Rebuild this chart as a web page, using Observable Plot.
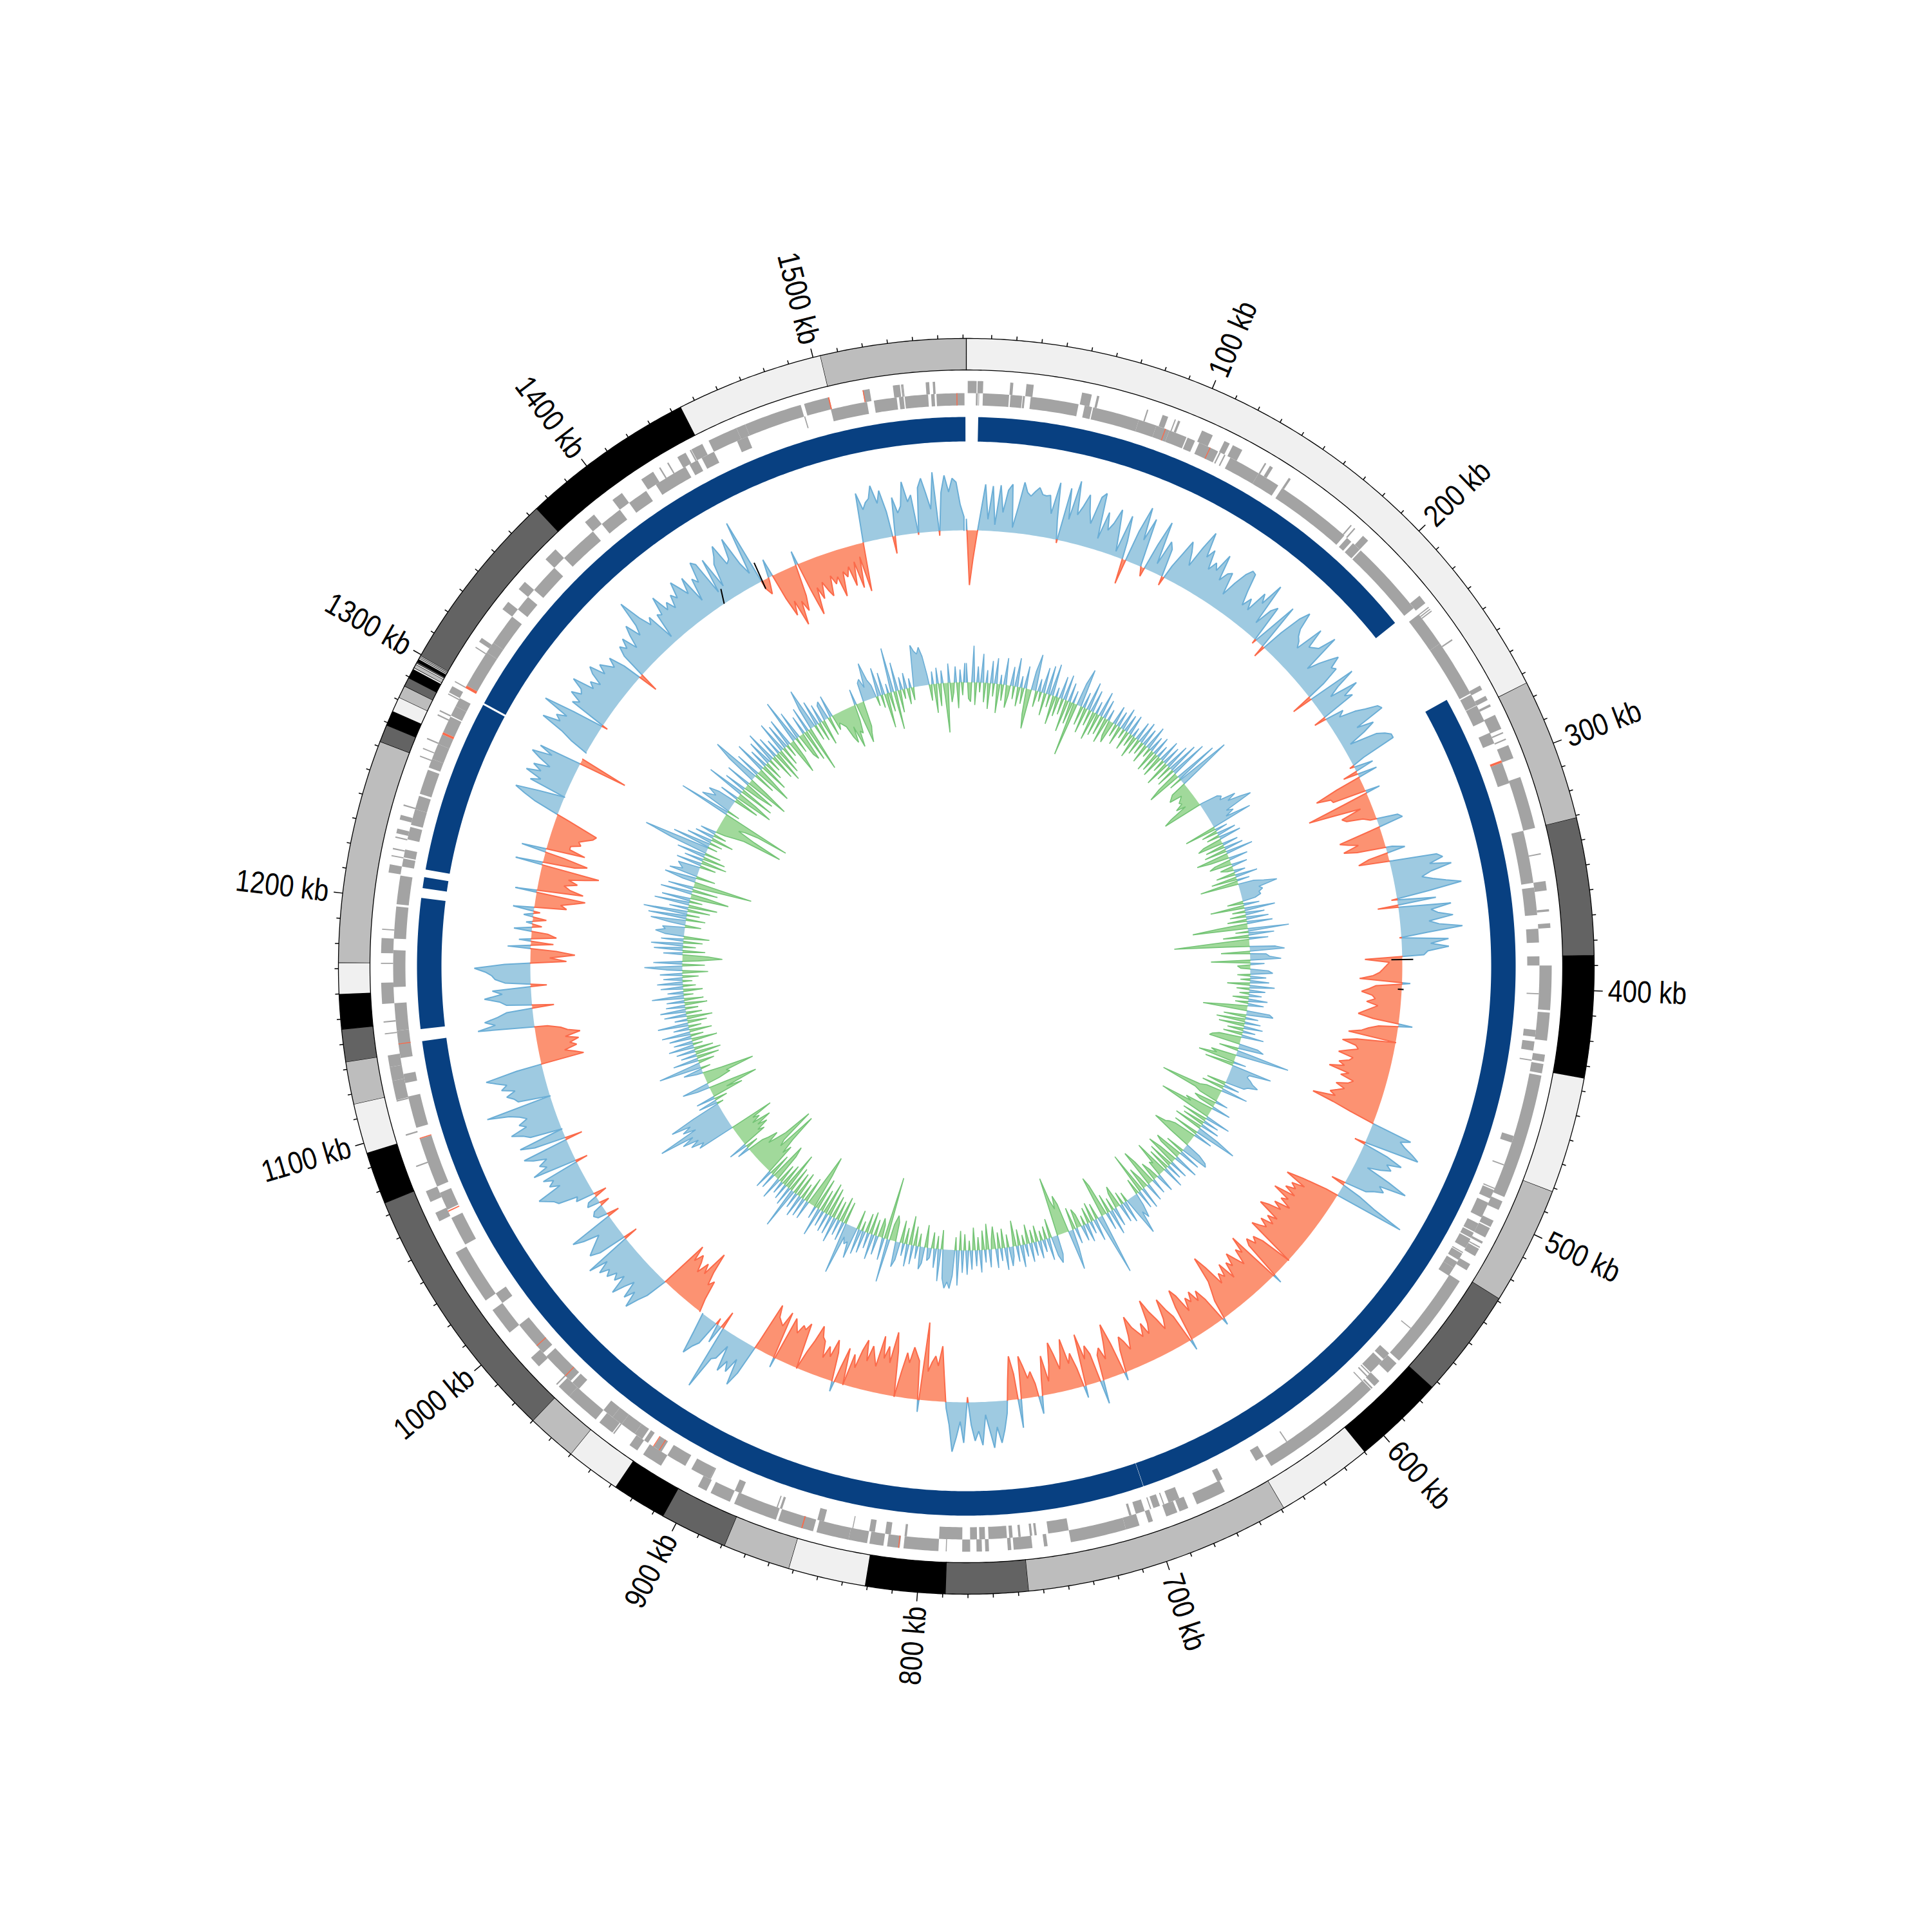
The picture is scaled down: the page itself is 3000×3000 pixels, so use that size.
<!DOCTYPE html>
<html><head><meta charset="utf-8">
<style>html,body{margin:0;padding:0;background:#fff}svg{display:block}</style>
<script src="https://cdn.jsdelivr.net/npm/d3@7"></script>
<script src="https://cdn.jsdelivr.net/npm/@observablehq/plot@0.6"></script>
</head><body>
<div id="chart"></div>
<script>
const genomeKb = 1561.3;
const labelKb = [100,200,300,400,500,600,700,800,900,1000,1100,1200,1300,1400,1500];
const ringStarts = [0,274,331,386,435,481.6,529,573,610,649,756,789,821,852,879,906,928,950,970,1075,1096,1116,1133,1146,1160,1172.5,1262,1269,1275,1281,1286,1289.6,1293.5,1294.2,1295.7,1296.3,1296.8,1298,1298.5,1299.2,1299.6,1374,1444,1503];
const ringColors = ["#f0f0f0","#bdbdbd","#636363","#000","#f0f0f0","#bdbdbd","#636363","#000","#f0f0f0","#bdbdbd","#636363","#000","#f0f0f0","#bdbdbd","#636363","#000","#f0f0f0","#bdbdbd","#636363","#000","#f0f0f0","#bdbdbd","#636363","#000","#f0f0f0","#bdbdbd","#636363","#000","#f0f0f0","#bdbdbd","#636363","#000","#f0f0f0","#bdbdbd","#f0f0f0","#636363","#000","#f0f0f0","#bdbdbd","#f0f0f0","#636363","#000","#f0f0f0","#bdbdbd"];
const blueBands = [[5.4,222.5],[264.5,699],[699.15,1137],[1142.5,1202],[1206.5,1211.5],[1215,1294.2],[1295.1,1560.9]];
const genesOuter = [[0.6,4.4],[4.8,7.2],[18.7,20],[25.6,28.7],[49.5,53.7],[56,57],[78,78.6],[85,87.5],[90.5,91],[92,93],[103,108],[113.5,116],[117.5,122],[133,133.7],[135.5,137],[145,146],[178,178.6],[180,180.6],[185,188],[220,224],[226,226.5],[227,227.5],[228,228.5],[243,243.6],[266,268],[271,273],[275,276],[280,286.5],[288,288.6],[291,291.6],[294,300],[308.5,331],[342,342.5],[354,358],[366,367],[372,374],[390,409],[410,422],[428,431],[432,436],[437,491],[493,497],[502,505],[505.5,510],[512,513],[514.5,515],[515.5,519],[523,526],[531.5,574],[575.5,581],[586,589],[590,590.7],[591,644.5],[667,680],[684,688],[689,694],[700,702],[706,712],[712,736],[746,747.5],[752.5,760.5],[761.5,763],[771,772.6],[774,776.3],[779,782.4],[789,789.4],[792.5,807.4],[809,814.4],[816,822],[823,831],[831,845],[846.5,852],[851,862],[863,882],[884,893],[895,899],[917,926],[929,933],[941,941.6],[942,949],[951,966],[966,972],[973,973.6],[984,989],[1003,1015],[1020,1044],[1059,1063],[1068,1073],[1084,1084.6],[1098,1098.6],[1113,1113.6],[1113.7,1122],[1122,1128],[1128,1133],[1142,1142.5],[1147,1147.6],[1155,1164],[1172,1172.5],[1176.6,1183],[1186.5,1187],[1211,1214.5],[1218,1218.5],[1221,1221.6],[1226,1226.6],[1228,1230],[1234,1236],[1240,1240.6],[1262,1262.5],[1265.5,1266],[1270,1270.6],[1281,1281.6],[1283,1283.6],[1291,1291.5],[1292,1295],[1297,1297.5],[1314,1314.5],[1317,1319],[1334,1338],[1345,1349],[1362,1368],[1385,1390],[1400,1405],[1415,1421],[1424,1424.6],[1428,1428.6],[1433,1437],[1439,1439.6],[1439.8,1445],[1448,1461],[1461,1465],[1465,1490],[1491.5,1502.5],[1517,1520],[1530,1533],[1534,1534.5],[1533.5,1534],[1544,1545.5],[1547,1548]];
const genesInner = [[4.2,5],[5.3,5.6],[7.2,18.6],[19.2,24.3],[24.6,25.5],[28,49],[51.7,55],[55.5,76],[76,84],[84,90],[90,98],[98.5,102],[104,113],[113.7,114.3],[116,116.6],[119,133],[133,143],[145,179],[180.5,183],[184,188],[188.6,222.6],[226,241.7],[241.7,267],[267.6,272.8],[273,280.5],[286,291],[300,309.5],[331,354],[356,368],[374,380],[386,390],[402,402.5],[418,421],[423,427],[431,431.5],[465,468],[478,478.5],[489,489.5],[490,494],[496,503],[506,510],[510.5,513],[513.5,518],[520,520.5],[520.8,524],[525,528],[528,532],[560,560.4],[574.5,578],[579,586],[586.5,587],[588,588.6],[591,591.5],[633,633.5],[645,649],[665.5,668],[686,691],[693,693.5],[695,698],[699,699.5],[702,706],[708,709],[736,745],[750,751],[752,753],[757,758],[760.5,762],[763,771],[772.5,775],[776,779],[782.4,792.5],[806.5,807.5],[813.5,816],[820.5,823],[830,830.4],[843,846],[862,863],[864,864.5],[881,884],[895.5,896],[896,905],[908,917],[920,924],[927,929],[930,934],[934,941],[941,946],[946,951],[965,969],[970,974],[972,985],[987,1003],[1015,1020],[1045,1058],[1062,1070],[1073,1095],[1100,1114],[1120,1124],[1131,1143],[1143,1155],[1162,1178],[1183,1197],[1198,1210.5],[1214.5,1218],[1218.5,1222],[1226.5,1232],[1233,1240],[1240,1246],[1247,1258],[1259,1263],[1263,1270],[1270,1274.5],[1275.5,1283],[1283.5,1288],[1288,1292],[1298.2,1315],[1315,1320],[1320,1334],[1338,1345],[1349,1362],[1368,1385],[1390,1400],[1405,1414],[1419,1434],[1436,1440],[1442,1448],[1459,1464],[1490,1490.5],[1502,1518],[1521,1531],[1532,1534],[1534.5,1544.7],[1546,1547.5],[1548.3,1560.5]];
const genesOuterRed = [[809.3,809.7],[851.2,851.7],[1502,1502.5],[1517,1517.4]];
const genesInnerRed = [[88,88.4],[109,109.4],[299,300],[921,921.4],[924,924.4],[973,973.4],[991,991.4],[1061,1061.5],[1095,1095.4],[1137,1137.4],[1274.5,1275.5],[1297,1298.2],[1557,1557.4]];
// coverage track, one signed reading every 2 kb: outward (+) blue, inward (-) red
const coverage = [
[18,-85,-45,-8,30,72,18,70,10,72,30,65,75,8,40,80,65,60,68,75,65,64,66,38,88,30,-5,83,35,97,45,60,80,55,37,81,89,18,62,35,48,72,40,8,68,30,-39,50,91,40],
[77,3,-14,42,82,15,55,45,-14,22,45,70,55,35,70,99,60,75,45,60,50,80,40,55,60,25,50,70,81,79,50,29,45,28,64,50,88,21,50,60,-7,30,75,-19,35,70,87,60,50,45],
[36,81,50,55,60,88,26,45,60,74,55,60,30,-33,77,45,27,72,45,56,-19,30,20,45,60,79,83,34,60,40,12,55,67,75,75,20,-7,30,-23,31,-40,-77,-55,-53,23,-40,-100,-60,-18,-51],
[-45,-20,-10,33,39,-15,-67,-55,-40,-65,-45,10,29,-30,-48,5,74,82,60,93,60,44,60,80,103,50,-9,60,-32,82,50,60,83,45,60,96,40,-3,73,45,73,40,34,-58,-20,-25,-30,-35,-45,-66],
[13,-40,-50,-62,-45,-40,-53,-35,-45,-55,-64,-40,22,-30,-45,-55,-75,0,-60,-82,-60,-55,-70,-84,-60,-65,-80,-70,-93,-60,-72,-50,-57,-75,-60,-70,-80,-70,-105,-70,-40,0,65,50,60,75,87,-17,40,67],
[45,55,40,20,60,92,50,60,45,35,-22,30,60,111,-20,-60,-85,-50,-70,-60,-75,-55,-89,-60,-70,-50,-75,-60,-80,-92,-55,-70,-55,-75,-60,-70,-81,0,-50,-65,-55,-70,-60,15,-86,-60,-70,-45,-60,-75],
[-55,-65,-40,-70,-50,-60,-45,-80,-101,-60,-45,-30,11,-40,-60,-45,-65,-50,-60,-40,-70,-83,-55,17,-45,-60,-81,-50,-35,-55,-70,-92,-55,-40,-60,-40,-50,-60,-80,-50,-30,-45,-55,-35,13,-50,-83,-55,-30,-50],
[-40,37,-45,-60,-40,-81,19,-30,-55,-40,-80,-55,-35,-60,-79,-45,-20,-61,-25,28,-20,-40,-30,-50,-66,45,-40,-68,-30,20,45,65,40,72,45,20,67,45,60,35,-8,63,30,55,77,35,10,-40,-86,-55],
[-70,-60,-45,-121,19,-60,-70,-80,-55,-70,-40,0,-70,-99,-50,-75,-55,-89,-40,-55,-70,-45,-77,-60,-30,-50,0,-57,-25,16,-45,-64,-35,-50,-30,-55,-60,-76,-50,-30,0,-72,-60,-65,-50,-60,-70,16,-75,-50],
[-55,-60,-78,-10,48,71,30,55,40,60,20,45,50,103,-28,30,-10,40,50,66,30,0,0,-20,-50,-40,-60,-92,-50,-65,-45,-60,-70,-55,-79,0,35,50,70,45,62,35,50,70,40,55,45,60,50,65],
[45,75,-22,45,60,50,40,30,55,71,-19,15,20,15,-15,20,15,-20,30,25,55,60,70,80,40,55,45,60,-19,70,45,55,40,60,73,-27,50,72,0,50,60,77,50,60,45,55,70,104,0,50],
[55,65,50,70,60,75,90,40,-68,-55,-40,-60,-50,-65,-45,-69,-50,-40,-20,88,60,76,55,40,-34,40,50,73,45,60,-25,40,55,60,70,87,40,-56,-30,-69,-40,36,-35,19,-39,-25,28,-15,10,-21],
[15,-10,33,-50,-40,-60,-77,34,-72,-50,-40,-60,-45,-70,-91,43,-50,-69,-30,39,-61,-35,-35,-50,-45,-55,-65,-69,-45,-20,10,40,60,77,40,0,60,45,72,50,65,40,60,76,45,68,-77,0,0,0],
[30,50,87,60,70,55,98,50,-9,60,50,70,55,60,79,45,55,40,60,70,45,60,50,40,55,30,-31,40,55,45,60,35,55,70,45,60,100,65,45,55,10,50,45,74,45,55,40,60,50,75],
[60,45,70,24,60,50,82,75,20,75,24,60,70,85,50,55,87,40,20,105,-13,-25,-5,29,-40,-72,-50,-92,-55,-73,-50,22,-45,-87,-45,-65,-40,-55,-66,-35,-50,-40,-73,-35,-45,-30,-62,-25,-68,-20],
[-76,0,77,50,60,65,84,55,74,40,-27,60,35,45,82,50,60,-3,70,84,60,35,92,-7,60,86,60,81,75,40,21]
];
// inner skew track, one signed reading every 2 kb: outward (+) blue, inward (-) green
const skew = [
[30,-25,-30,57,-35,25,-15,45,-30,20,-40,35,-20,40,-45,15,-25,42,-35,-15,30,-20,45,-30,18,-25,35,-40,-62,30,57,-25,20,-15,40,-35,45,-20,50,-45,15,-30,35,-25,40,-50,30,-35,20,-84],
[35,60,-30,25,-40,45,-25,35,-45,20,-35,40,-30,30,-40,18,-25,-35,30,-20,25,-30,35,-15,28,-30,32,-20,15,-35,30,-25,35,-20,28,-30,38,-15,25,-35,30,-30,20,-35,35,-20,30,-40,40,-25],
[50,-30,60,-35,-55,70,-20,87,30,-25,-30,-35,-15,-20,-25,-22,-35,-20,-50,-63,5,30,35,30,55,40,60,76,30,40,25,65,-50,20,-25,30,-20,35,-30,-40,25,-30,30,-35,43,-51,-30,30,-25,-35],
[25,-20,-10,18,-30,35,-40,20,-60,25,40,60,30,35,28,30,20,-25,25,-53,48,-20,30,-25,35,-30,40,-45,-86,64,-20,40,-40,30,-60,-117,-35,40,54,-45,25,30,48,-61,22,-20,-15,28,35,-20],
[25,-15,30,-35,39,-20,25,-15,20,-25,30,-20,25,-30,-69,36,42,-35,20,-45,25,-40,30,-25,20,-30,35,-35,-45,-49,30,40,-30,25,84,-40,-30,-58,20,-45,64,30,28,35,40,50,35,30,-30,25],
[-35,42,-25,-35,-97,-40,-30,20,-35,-25,30,-45,-35,-84,-30,40,-40,25,-35,30,-45,35,67,-40,30,-35,-45,-50,-67,-35,25,40,44,-30,35,-45,-35,40,-30,-50,30,-40,25,-35,35,-55,-20,-25,30,-15],
[-30,25,-40,-60,30,-15,-35,35,-66,30,-25,20,40,28,63,25,-15,35,-20,30,-35,-25,30,-20,40,-30,28,-50,-65,96,25,-25,35,-30,20,-25,30,-15,25,-20,-30,25,-35,30,63,-45,-60,-40,-55,-92],
[30,43,30,-30,35,-20,20,-15,28,-25,22,-20,30,-30,20,-15,35,-25,25,-40,15,30,-20,35,-30,20,-25,30,-35,-15,28,-40,20,-30,35,-20,25,-35,30,-15,38,-25,35,-30,55,-20,40,60,50,60],
[45,-30,50,-20,30,-25,15,20,-35,25,35,-20,20,-30,30,-45,35,-25,20,-35,28,40,-30,-40,-25,68,-98,35,-20,-30,30,-25,40,-35,25,-30,35,-15,40,-30,50,25,30,20,81,-35,30,-40,25,-30],
[40,-35,30,-45,30,-50,25,-35,45,-50,20,-55,-85,-30,30,-40,30,-25,35,-40,25,-35,65,-40,30,-60,25,-35,20,-30,35,-45,-60,25,-35,30,-50,-35,-60,-104,-40,-50,-106,-60,-45,-30,-50,-35,-25,20],
[-20,30,-40,-30,-50,-35,-60,-30,-45,-35,-70,60,50,70,55,80,60,114,50,70,55,85,45,-10,30,-20,30,-50,-25,-77,-40,20,43,-20,-40,-35,-81,-30,10,30,-15,67,15,-25,40,-35,25,-40,30,-30],
[40,-15,30,-40,35,-20,45,-35,25,-20,48,-30,20,-40,35,-25,40,-20,30,-35,28,-30,50,-15,25,-30,35,-20,40,-15,30,-25,35,-40,25,59,-35,45,-25,-62,-40,30,-35,45,-20,50,-30,35,-40,30],
[45,30,35,-25,25,55,-30,60,-20,69,-35,30,-45,55,-20,45,-60,-25,50,-40,40,-35,-92,20,50,-30,45,25,30,35,-25,40,-40,30,-35,45,-25,60,104,-15,60,-20,40,-35,30,-20,25,-15,-30,-45],
[-107,-60,-30,-40,-60,-110,81,-20,50,40,30,45,30,-40,30,-60,-30,60,-55,35,-25,-50,40,-70,-30,50,77,-35,40,-60,-25,50,-45,30,-30,40,-20,50,-40,35,-50,25,-40,50,-30,40,-20,45,-55,-30],
[70,-25,45,-35,-45,30,-50,40,-71,35,65,-25,40,-30,30,-40,25,30,-30,35,-25,-15,-20,-25,-45,-55,-30,-65,-40,-45,-25,25,-64,-50,-40,30,35,20,58,30,20,-15,45,-20,35,-54,15,-30,70,-60],
[45,-35,20,-15,25,-25,15,-20,20,65,55,50,60,45,15,-25,20,-45,25,-35,20,-20,-77,30,-30,-15,25,-40,20,-20,30]
];
const blackSpans = [[1418,22,1415,0],[1441,31,1440,-13],[386.5,-17,386.5,17],[403.5,-6,403.5,3]];

// --- helpers: genome position + radius → plot coordinates
const TAU = 2*Math.PI;
const P = (kb,r)=>({x:r*Math.sin(TAU*kb/genomeKb), y:r*Math.cos(TAU*kb/genomeKb)});
let nextId = 0;
function sector(a,b,r0,r1){
  const id = nextId++, n = Math.max(1,Math.ceil((b-a)/1.5)), out=[];
  for(let i=0;i<=n;i++) out.push({...P(a+(b-a)*i/n,r1),id});
  for(let i=n;i>=0;i--) out.push({...P(a+(b-a)*i/n,r0),id});
  return out;
}
// a run of same-signed readings; each foot sits where the trace crosses the baseline
function signedTrack(chunks, base, sign){
  const v = chunks.flat(), fills=[], lines=[];
  const foot = (inner,outer)=>{
    if(outer<0||outer>=v.length) return inner;
    const a=Math.abs(v[inner]), b=Math.abs(v[outer]);
    return inner+(outer-inner)*a/(a+b);
  };
  let i=0;
  while(i<v.length){
    if(v[i]*sign<=0){i++;continue;}
    let j=i; while(j+1<v.length && v[j+1]*sign>0) j++;
    const id = nextId++, s=foot(i,i-1), e=foot(j,j+1);
    const top=[{...P(s*2,base),id}];
    for(let k=i;k<=j;k++) top.push({...P(k*2,base+v[k]),id});
    top.push({...P(e*2,base),id});
    fills.push(...top);
    for(let k=j;k>=i;k--) fills.push({...P(k*2,base),id});
    fills.push({...P(s*2,base),id});
    lines.push(...top);
    i=j+1;
  }
  return {fills,lines};
}
const fillPoly=(rows,color)=>Plot.line(rows,{x:"x",y:"y",z:"id",fill:color,stroke:"none",curve:"linear"});
const strokeLine=(rows,color,w)=>Plot.line(rows,{x:"x",y:"y",z:"id",stroke:color,strokeWidth:w,fill:"none",curve:"linear",strokeLinejoin:"miter"});

const R = {ringOut:975, ringIn:926, gOut:909, gMid:890, gIn:871, bandOut:853, bandIn:815, cov:677, skew:441};
const ringMarks = ringStarts.map((s,i)=>{
  const e = i+1<ringStarts.length?ringStarts[i+1]:genomeKb;
  return Plot.line(sector(s,e,R.ringIn,R.ringOut),{x:"x",y:"y",z:"id",fill:ringColors[i],stroke:"#000",strokeWidth:1.3,curve:"linear"});
});
const ticks = d3.range(10,1561,10).map(kb=>{
  const major = kb%100===0, a=P(kb,R.ringOut), b=P(kb,R.ringOut+(major?14:6));
  return {x1:a.x,y1:a.y,x2:b.x,y2:b.y,major};
});
const labels = labelKb.map(kb=>{
  const deg=360*kb/genomeKb, p=P(kb,997);
  return {...p,text:kb+" kb",deg,rot:deg<180?deg-90:deg+90};
});
const covUp=signedTrack(coverage,R.cov,1), covDn=signedTrack(coverage,R.cov,-1);
const skewUp=signedTrack(skew,R.skew,1), skewDn=signedTrack(skew,R.skew,-1);
const blackLinks = blackSpans.map(([a,u,b,w])=>{const p=P(a,R.cov+u),q=P(b,R.cov+w);return {x1:p.x,y1:p.y,x2:q.x,y2:q.y};});
const labelStyle={x:"x",y:"y",text:"text",rotate:"rot",fontSize:48,fill:"#000",lineAnchor:"middle",fontFamily:"'Liberation Sans',sans-serif"};

const chart = Plot.plot({
  width:3000,height:3000,margin:0,
  x:{domain:[-1500,1500],axis:null},
  y:{domain:[-1500,1500],axis:null},
  style:{background:"#fff"},
  marks:[
    ...ringMarks,
    Plot.link(ticks,{x1:"x1",y1:"y1",x2:"x2",y2:"y2",stroke:"#000",strokeWidth:1.5}),
    Plot.text(labels.filter(d=>d.deg<180),{...labelStyle,textAnchor:"start"}),
    Plot.text(labels.filter(d=>d.deg>=180),{...labelStyle,textAnchor:"end"}),
    fillPoly(genesOuter.flatMap(([a,b])=>sector(a,b,R.gMid,R.gOut)),"#a3a3a3"),
    fillPoly(genesInner.flatMap(([a,b])=>sector(a,b,R.gIn,R.gMid)),"#a3a3a3"),
    fillPoly(genesOuterRed.flatMap(([a,b])=>sector(a,b,R.gMid,R.gOut)),"#fb6a4a"),
    fillPoly(genesInnerRed.flatMap(([a,b])=>sector(a,b,R.gIn,R.gMid)),"#fb6a4a"),
    fillPoly(blueBands.flatMap(([a,b])=>sector(a,b,R.bandIn,R.bandOut)),"#084081"),
    fillPoly(covUp.fills,"#9ecae1"),
    strokeLine(covUp.lines,"#6baed6",2),
    fillPoly(covDn.fills,"#fc9272"),
    strokeLine(covDn.lines,"#fb6a4a",2),
    Plot.link(blackLinks,{x1:"x1",y1:"y1",x2:"x2",y2:"y2",stroke:"#000",strokeWidth:2}),
    fillPoly(skewUp.fills,"#9ecae1"),
    strokeLine(skewUp.lines,"#6baed6",1.6),
    fillPoly(skewDn.fills,"#a1d99b"),
    strokeLine(skewDn.lines,"#74c476",1.6)
  ]
});
document.getElementById("chart").appendChild(chart);
// the reference face is condensed: squeeze the installed sans to the same label length
chart.querySelectorAll("text").forEach(t=>{
  t.setAttribute("textLength",(t.getComputedTextLength()*0.85).toFixed(1));
  t.setAttribute("lengthAdjust","spacingAndGlyphs");
});
</script>
</body></html>
